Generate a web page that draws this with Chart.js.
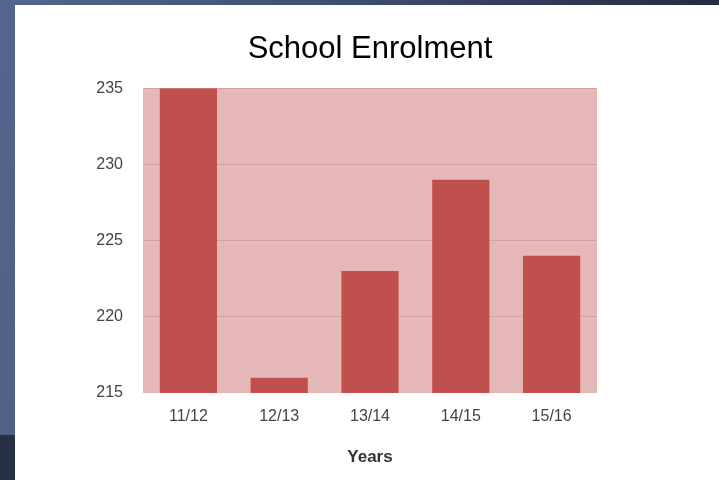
<!DOCTYPE html>
<html>
<head>
<meta charset="utf-8">
<script src="https://cdn.jsdelivr.net/npm/chart.js@4/dist/chart.umd.min.js"></script>
<style>
  html, body { margin: 0; padding: 0; }
  body {
    width: 719px; height: 480px; overflow: hidden; position: relative;
    background: linear-gradient(100deg, #55668e 0%, #3e4c6e 45%, #1d2436 100%);
  }
  .band { position: absolute; left: 0; top: 435px; width: 15px; height: 45px; background: #262f45; }
  #chart { position: absolute; left: 15px; top: 5px; background: #fff; }
</style>
</head>
<body>
<div class="band"></div>
<canvas id="chart" width="704" height="475"></canvas>
<script>
const years = ['11/12', '12/13', '13/14', '14/15', '15/16'];
const enrolment = [235, 216, 223, 229, 224];
const yTicks = [215, 220, 225, 230, 235];

// pink fill behind the plot area
const plotBackground = {
  id: 'plotBackground',
  beforeDraw(chart) {
    const { ctx, chartArea: a } = chart;
    ctx.save();
    ctx.fillStyle = '#e5b8b7';
    ctx.fillRect(a.left, a.top, a.right - a.left, a.bottom - a.top);
    ctx.restore();
  }
};

const ctx = document.getElementById('chart').getContext('2d');
new Chart(ctx, {
  type: 'bar',
  data: {
    labels: years,
    datasets: [{
      label: 'Enrolment',
      data: enrolment,
      backgroundColor: '#c0504d',
      borderWidth: 0,
      categoryPercentage: 1,
      barPercentage: 0.63
    }]
  },
  options: {
    responsive: false,
    animation: false,
    devicePixelRatio: 1,
    layout: { padding: { left: 0, right: 122, top: 0, bottom: 0 } },
    plugins: {
      legend: { display: false },
      tooltip: { enabled: false },
      title: {
        display: true,
        text: 'School Enrolment',
        fullSize: false,
        color: '#000',
        font: { family: 'Arial, "Liberation Sans", sans-serif', size: 31, weight: 'normal' },
        padding: { top: 26, bottom: 20 }
      }
    },
    scales: {
      x: {
        grid: { display: false },
        border: { display: false },
        ticks: {
          color: '#444',
          padding: 6,
          font: { family: 'Arial, "Liberation Sans", sans-serif', size: 16 }
        },
        title: {
          display: true,
          text: 'Years',
          color: '#333',
          font: { family: 'Arial, "Liberation Sans", sans-serif', size: 17, weight: 'bold' },
          padding: { top: 0, bottom: 12 }
        },
        afterFit(scale) { scale.height = 87; }
      },
      y: {
        min: yTicks[0],
        max: yTicks[yTicks.length - 1],
        afterBuildTicks(scale) { scale.ticks = yTicks.map(v => ({ value: v })); },
        grid: {
          // no line along the baseline
          color: c => (c.tick && c.tick.value === yTicks[0]) ? 'rgba(0,0,0,0)' : '#cfa3a3',
          lineWidth: 1,
          drawTicks: false
        },
        border: { display: false },
        ticks: {
          color: '#444',
          padding: 20,
          font: { family: 'Arial, "Liberation Sans", sans-serif', size: 16 }
        },
        afterFit(scale) { scale.width = 128; }
      }
    }
  },
  plugins: [plotBackground]
});
</script>
</body>
</html>
